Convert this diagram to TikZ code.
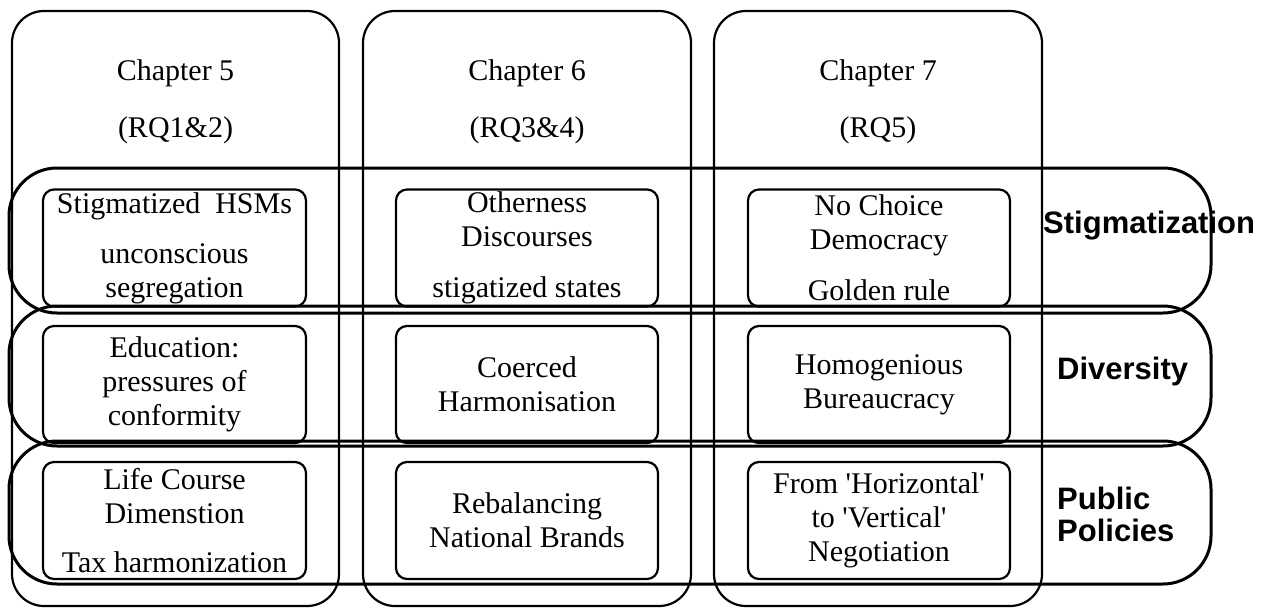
\documentclass[tikz,border=0pt]{standalone}
\usepackage{fontspec}
\setmainfont{Liberation Serif}
\newfontfamily\labelfont{Liberation Sans}
\begin{document}
\begin{tikzpicture}[x=1pt,y=-1pt,
  chapcol/.style={draw=black, line width=2.2pt, rounded corners=32pt,
    minimum width=328pt, minimum height=595pt, inner sep=0pt, outer sep=0pt},
  themeband/.style={draw=black, line width=3pt, rounded corners=48pt,
    minimum width=1202pt, inner sep=0pt, outer sep=0pt},
  topicbox/.style={draw=black, line width=2.2pt, rounded corners=11pt,
    minimum width=262pt, minimum height=117pt, inner sep=0pt, outer sep=0pt,
    align=center, font=\fontsize{30}{34}\selectfont},
  chaptitle/.style={anchor=base, inner sep=0pt, font=\fontsize{30}{34}\selectfont},
  themelabel/.style={inner sep=0pt, font=\labelfont\bfseries\fontsize{31}{32}\selectfont}
]
\useasboundingbox (0,0) rectangle (1277,608);

% chapter columns
\node[chapcol, minimum width=327pt] (col5) at (175.5,308.5) {};
\node[chapcol] (col6) at (527,308.5) {};
\node[chapcol] (col7) at (878,308.5) {};

\node[chaptitle] (ch5) at (175.5,80) {Chapter 5};
\node[chaptitle] (rq5) at (175.5,137) {(RQ1\&2)};
\node[chaptitle] (ch6) at (527,80) {Chapter 6};
\node[chaptitle] (rq6) at (527,137) {(RQ3\&4)};
\node[chaptitle] (ch7) at (878,80) {Chapter 7};
\node[chaptitle] (rq7) at (878,137) {(RQ5)};

% theme bands
\node[themeband, minimum height=145pt] (stig) at (610,240.5) {};
\node[themeband, minimum height=140pt] (div) at (610,376) {};
\node[themeband, minimum height=143pt] (pub) at (610,512.5) {};

% topic boxes: stigmatization
\node[topicbox, minimum width=263pt] (s5) at (174.5,248)
  {Stigmatized~~HSMs\\[16pt]unconscious\\segregation};
\node[topicbox] (s6) at (527,248)
  {Otherness\\Discourses\\[17pt]stigatized states};
\node[topicbox] (s7) at (879,248)
  {No Choice\\Democracy\\[17pt]Golden rule};

% topic boxes: diversity
\node[topicbox, minimum width=263pt] (d5) at (174.5,384.5)
  {Education:\\pressures of\\conformity};
\node[topicbox] (d6) at (527,384.5)
  {Coerced\\Harmonisation};
\node[topicbox] (d7) at (879,384.5)
  {Homogenious\\Bureaucracy};

% topic boxes: public policies
\node[topicbox, minimum width=263pt] (p5) at (174.5,520.5)
  {Life Course\\Dimenstion\\[15pt]Tax harmonization};
\node[topicbox] (p6) at (527,520.5)
  {Rebalancing\\National Brands};
\node[topicbox] (p7) at (879,520.5)
  {From \textquotesingle Horizontal\textquotesingle\\to \textquotesingle Vertical\textquotesingle\\Negotiation};

% theme labels
\node[themelabel, anchor=base west] (lstig) at (1043,233) {Stigmatization};
\node[themelabel, anchor=base west] (ldiv) at (1057,379) {Diversity};
\node[themelabel, anchor=west, align=left] (lpub) at (1057,514) {Public\\Policies};
\end{tikzpicture}
\end{document}
